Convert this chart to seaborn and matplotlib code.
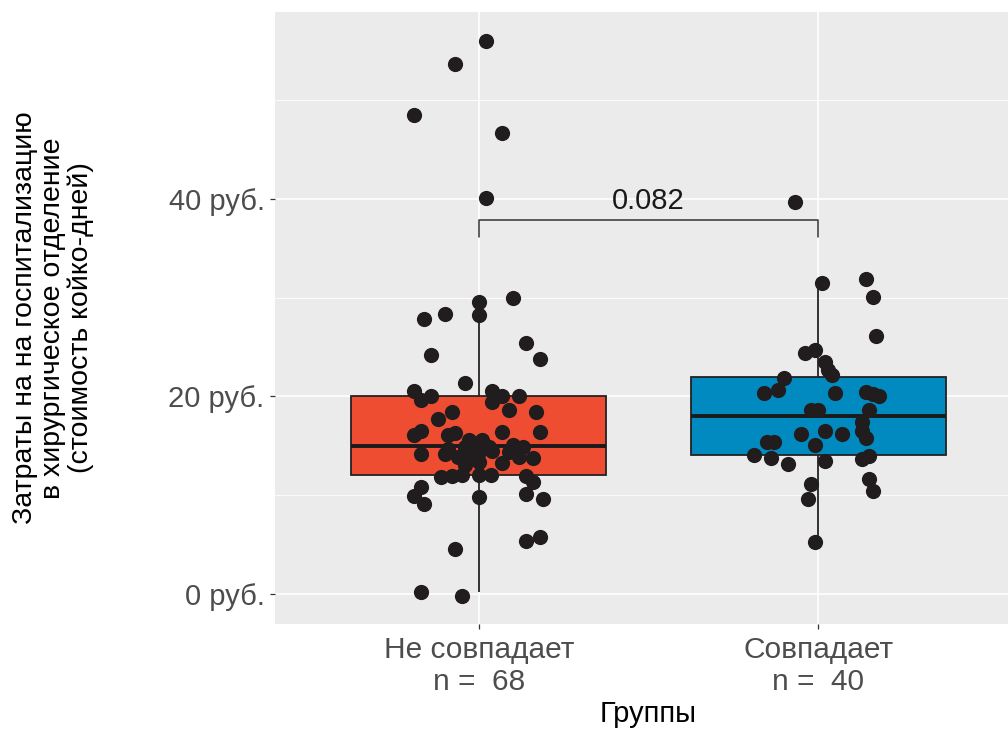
import numpy as np
import pandas as pd
import matplotlib
matplotlib.use("Agg")
import matplotlib.pyplot as plt
from matplotlib.ticker import MultipleLocator, FuncFormatter
import seaborn as sns

groups = ["Не совпадает", "Совпадает"]
group_sizes = [68, 40]
box_colors = ["#EE4D32", "#008ABF"]
point_color = "#211D1E"

# costs per patient, group "Не совпадает"
cost_1 = [56.0, 53.7, 48.5, 46.7, 40.1, 29.6, 30.0, 27.8, 28.4, 28.3,
          24.2, 25.4, 23.8, 21.4, 20.6, 19.6, 20.1, 20.6, 20.0, 20.0,
          19.4, 18.6, 18.4, 18.4, 17.7, 16.5, 16.1, 16.1, 16.3, 16.4,
          16.4, 15.6, 15.6, 14.2, 14.2, 13.9, 14.2, 14.4, 14.5, 14.4,
          14.9, 13.9, 13.8, 13.3, 13.1, 13.4, 12.1, 12.0, 11.9, 11.9,
          11.3, 10.8, 9.9, 9.1, 9.8, 10.1, 9.6, 4.6, 5.4, 5.8,
          0.2, -0.2, 15.1, 14.9, 14.9, 14.7, 11.8, 12.0]
# horizontal jitter (category units)
jitter_1 = [0.02, -0.07, -0.19, 0.07, 0.02, 0.00, 0.10, -0.16, -0.10, 0.00,
            -0.14, 0.14, 0.18, -0.04, -0.19, -0.17, -0.14, 0.04, 0.07, 0.12,
            0.04, 0.09, 0.17, -0.08, -0.12, -0.17, -0.19, -0.09, -0.07, 0.07,
            0.18, -0.03, 0.01, -0.17, -0.10, -0.06, -0.03, 0.00, 0.04, 0.09,
            0.13, 0.12, 0.16, 0.07, -0.04, 0.00, 0.00, -0.05, -0.08, 0.14,
            0.16, -0.17, -0.19, -0.16, 0.00, 0.14, 0.19, -0.07, 0.14, 0.18,
            -0.17, -0.05, 0.10, -0.04, 0.03, -0.09, -0.11, 0.035]

# costs per patient, group "Совпадает"
cost_2 = [39.7, 31.5, 31.9, 30.1, 26.1, 24.4, 24.7, 23.5, 22.7, 22.2,
          21.9, 20.7, 20.4, 20.4, 20.5, 20.1, 18.6, 18.6, 18.6, 17.4,
          16.5, 15.8, 16.2, 16.5, 16.2, 15.4, 15.4, 15.1, 14.1, 13.8,
          13.2, 13.5, 13.7, 14.0, 11.6, 10.4, 11.1, 9.6, 5.3, 20.3]
jitter_2 = [-0.07, 0.01, 0.14, 0.16, 0.17, -0.04, -0.01, 0.02, 0.03, 0.04,
            -0.10, -0.12, -0.16, 0.05, 0.14, 0.18, 0.15, -0.02, 0.00, 0.13,
            0.13, 0.14, -0.05, 0.02, 0.07, -0.15, -0.13, -0.01, -0.19, -0.14,
            -0.09, 0.02, 0.13, 0.15, 0.15, 0.16, -0.02, -0.03, -0.01, 0.16]

p_value = "0.082"
bracket_top = 37.9
bracket_bottom = 36.2

df = pd.DataFrame({
    "group": [groups[0]] * len(cost_1) + [groups[1]] * len(cost_2),
    "cost": cost_1 + cost_2,
    "jit": jitter_1 + jitter_2,
})
df["xpos"] = df["group"].map({g: i for i, g in enumerate(groups)}) + df["jit"]

sns.set_theme(style="darkgrid", rc={
    "axes.facecolor": "#EBEBEB",
    "figure.facecolor": "white",
    "grid.color": "white",
    "grid.linewidth": 1.2,
})
plt.rcParams["font.family"] = ["Liberation Sans", "DejaVu Sans"]

fig = plt.figure(figsize=(10.08, 7.31), dpi=100)
ax = fig.add_axes([275 / 1008, 107 / 731, 747 / 1008, 612 / 731])

sns.boxplot(data=df, x="group", y="cost", hue="group", order=groups,
            hue_order=groups, palette=box_colors, saturation=1, width=0.75,
            linecolor="#222222", linewidth=1.3, showfliers=False,
            showcaps=False, legend=False,
            medianprops={"linewidth": 2.8, "color": "#1A1A1A"}, ax=ax)

sns.scatterplot(data=df, x="xpos", y="cost", color=point_color, s=120,
                linewidth=0, zorder=4, ax=ax)

# significance bracket between the two groups
ax.plot([0, 0, 1, 1], [bracket_bottom, bracket_top, bracket_top, bracket_bottom],
        color="#333333", lw=1.1, zorder=3)
ax.text(0.5, bracket_top + 0.45, p_value, ha="center", va="bottom",
        fontsize=21, color="#1A1A1A")

ax.set_xlim(-0.6, 1.6)
ax.set_ylim(-3.04, 58.94)
ax.set_yticks([0, 20, 40])
ax.yaxis.set_major_formatter(FuncFormatter(lambda v, _: f"{v:.0f} руб."))
ax.yaxis.set_minor_locator(MultipleLocator(10))
ax.grid(which="minor", axis="y", color="white", lw=0.6)
ax.grid(which="major", color="white", lw=1.2)
ax.set_xticks(range(len(groups)))
ax.set_xticklabels([f"{g}\nn =  {n}" for g, n in zip(groups, group_sizes)],
                   linespacing=1.2)

ax.tick_params(axis="both", which="major", length=3.5, width=0.9,
               color="#333333", labelcolor="#4D4D4D",
               bottom=True, left=True)
ax.tick_params(axis="x", pad=5, labelsize=21.5)
ax.tick_params(axis="y", pad=4, labelsize=21)
ax.tick_params(which="minor", length=0)
for s in ax.spines.values():
    s.set_visible(False)

ax.set_xlabel("Группы", fontsize=21, color="black", labelpad=3)
ax.set_ylabel("Затраты на на госпитализацию\nв хирургическое отделение\n(стоимость койко-дней)",
              fontsize=20.5, color="black", multialignment="center", linespacing=1.1)
ax.yaxis.set_label_coords(-0.297, 0.5)
ax.yaxis.label.set_verticalalignment("center")

fig.savefig("out.png", dpi=100)
